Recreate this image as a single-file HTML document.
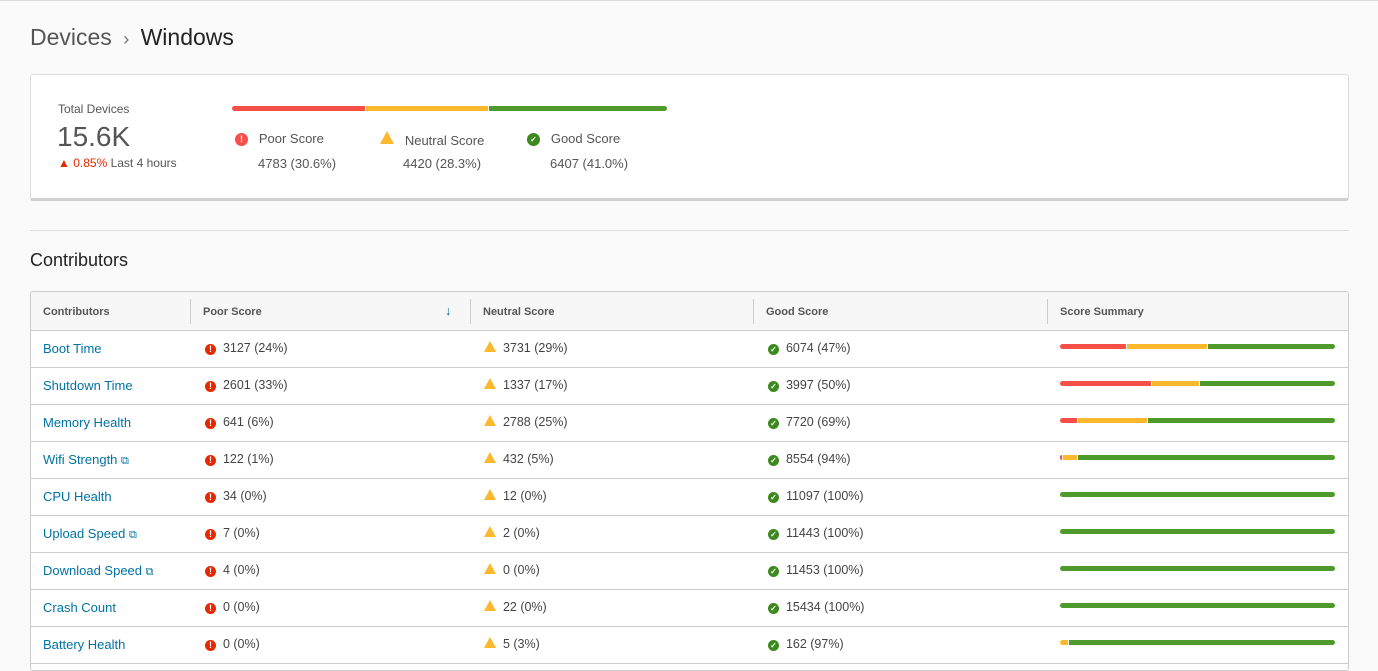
<!DOCTYPE html>
<html><head><meta charset="utf-8"><style>
*{margin:0;padding:0;box-sizing:border-box}
body{width:1378px;height:661px;overflow:hidden;background:#fafafa;font-family:"Liberation Sans",sans-serif;color:#333;position:relative}
.a{position:absolute;white-space:nowrap}
.card{position:absolute;left:30px;top:74px;width:1319px;height:127px;background:#fff;border:1px solid #ddd;border-bottom:3px solid #d0d0d0;border-radius:3px}
.bar{position:absolute;height:5px;display:flex;gap:1px}
.bar div{height:5px}
.r{background:#f54f47}.y{background:#fdb92e}.g{background:#4f9a2c}
.tbl{position:absolute;left:30px;top:291px;width:1319px;height:380px;background:#fff;border:1px solid #ccc;border-radius:3px;overflow:hidden}
.hd{position:absolute;left:0;top:0;width:100%;height:39px;background:#f7f7f7;border-bottom:1px solid #ccc}
.row{position:absolute;left:0;width:100%;height:37px;border-bottom:1px solid #ccc}
.th{position:absolute;top:14px;font-size:11px;font-weight:bold;color:#555}
.sep{position:absolute;top:7px;width:1px;height:25px;background:#ccc}
.lnk{color:#0072a3;font-size:13px}
.v{font-size:12.5px;color:#444}
.ie{display:inline-block;width:11px;height:11px;border-radius:50%;background:#e62700;color:#fff;font-size:9px;font-weight:bold;text-align:center;line-height:11px;vertical-align:0px}
.iw{display:inline-block;width:0;height:0;border-left:6px solid transparent;border-right:6px solid transparent;border-bottom:11px solid #fdb92e;vertical-align:0px;position:relative}
.ig{display:inline-block;width:11px;height:11px;border-radius:50%;background:#3c8a1e;color:#fff;font-size:8px;font-weight:bold;text-align:center;line-height:11px;vertical-align:0px}
</style></head><body>
<div class="a" style="left:0;top:0;width:1378px;height:1px;background:#ddd"></div>
<div class="a" style="left:30px;top:24px;font-size:23px;color:#555">Devices <span style="color:#777;font-size:18px">&nbsp;›&nbsp;</span> <span style="color:#222">Windows</span></div>
<div class="card"></div>
<div class="a" style="left:58px;top:102px;font-size:12px;color:#555">Total Devices</div>
<div class="a" style="left:57px;top:121px;font-size:28px;color:#555">15.6K</div>
<div class="a" style="left:58px;top:156px;font-size:12px;color:#555"><span style="color:#e62700">▲ 0.85%</span> Last 4 hours</div>
<div class="bar" style="left:232px;top:106px;width:435px"><div class="r" style="width:133px;border-radius:3px 0 0 3px"></div><div class="y" style="width:122px"></div><div class="g" style="width:178px;border-radius:0 3px 3px 0"></div></div>
<div class="a" style="left:235px;top:131px;font-size:13px;color:#555"><span class="ie" style="width:13px;height:13px;line-height:13px;background:#f54f47;vertical-align:1px">!</span>&nbsp;&nbsp; Poor Score</div>
<div class="a" style="left:258px;top:156px;font-size:13px;color:#555">4783 (30.6%)</div>
<div class="a" style="left:380px;top:131px;font-size:13px;color:#555"><span class="iw" style="border-bottom-width:13px;border-left-width:7px;border-right-width:7px;vertical-align:1px"></span>&nbsp;&nbsp; Neutral Score</div>
<div class="a" style="left:403px;top:156px;font-size:13px;color:#555">4420 (28.3%)</div>
<div class="a" style="left:527px;top:131px;font-size:13px;color:#555"><span class="ig" style="width:13px;height:13px;line-height:13px;vertical-align:1px">✓</span>&nbsp;&nbsp; Good Score</div>
<div class="a" style="left:550px;top:156px;font-size:13px;color:#555">6407 (41.0%)</div>
<div class="a" style="left:30px;top:230px;width:1319px;height:1px;background:#ddd"></div>
<div class="a" style="left:30px;top:250px;font-size:18px;color:#222">Contributors</div>
<div class="tbl">
<div class="hd">
<div class="th" style="left:12px">Contributors</div>
<div class="sep" style="left:159px"></div><div class="th" style="left:172px">Poor Score</div>
<div class="th" style="left:414px;color:#0072a3;font-size:13px;top:11px">↓</div>
<div class="sep" style="left:439px"></div><div class="th" style="left:452px">Neutral Score</div>
<div class="sep" style="left:722px"></div><div class="th" style="left:735px">Good Score</div>
<div class="sep" style="left:1016px"></div><div class="th" style="left:1029px">Score Summary</div>
</div>
</div>
<div id="rows"></div>
<script>
var d=[["Boot Time",0,"3127 (24%)","3731 (29%)","6074 (47%)",24,29],
["Shutdown Time",0,"2601 (33%)","1337 (17%)","3997 (50%)",33,17],
["Memory Health",0,"641 (6%)","2788 (25%)","7720 (69%)",6,25],
["Wifi Strength",1,"122 (1%)","432 (5%)","8554 (94%)",1,5],
["CPU Health",0,"34 (0%)","12 (0%)","11097 (100%)",0,0],
["Upload Speed",1,"7 (0%)","2 (0%)","11443 (100%)",0,0],
["Download Speed",1,"4 (0%)","0 (0%)","11453 (100%)",0,0],
["Crash Count",0,"0 (0%)","22 (0%)","15434 (100%)",0,0],
["Battery Health",0,"0 (0%)","5 (3%)","162 (97%)",0,3]];
var t=document.querySelector('.tbl'),h='';
d.forEach(function(r,i){var top=39+i*37;
var W=275,rw=Math.round(W*r[5]/100),yw=Math.round(W*r[6]/100);
if(r[5]==1)rw=2;var gw=W-rw-yw-(rw?1:0)-(yw?1:0);
h+='<div class="row" style="top:'+top+'px">'+
'<div class="a lnk" style="left:12px;top:10px">'+r[0]+(r[1]?' <span style="font-size:11px">⧉</span>':'')+'</div>'+
'<div class="a v" style="left:174px;top:10px"><span class="ie">!</span>&nbsp; '+r[2]+'</div>'+
'<div class="a v" style="left:453px;top:10px"><span class="iw"></span>&nbsp; '+r[3]+'</div>'+
'<div class="a v" style="left:737px;top:10px"><span class="ig">✓</span>&nbsp; '+r[4]+'</div>'+
'<div class="bar" style="left:1029px;top:13px;width:275px">'+
(rw?'<div class="r" style="width:'+rw+'px;border-radius:3px 0 0 3px"></div>':'')+
(yw?'<div class="y" style="width:'+yw+'px'+(rw?'':';border-radius:3px 0 0 3px')+'"></div>':'')+
'<div class="g" style="width:'+gw+'px;border-radius:'+(rw||yw?'0 3px 3px 0':'3px')+'"></div></div></div>';});
t.insertAdjacentHTML('beforeend',h);
</script>
</body></html>
